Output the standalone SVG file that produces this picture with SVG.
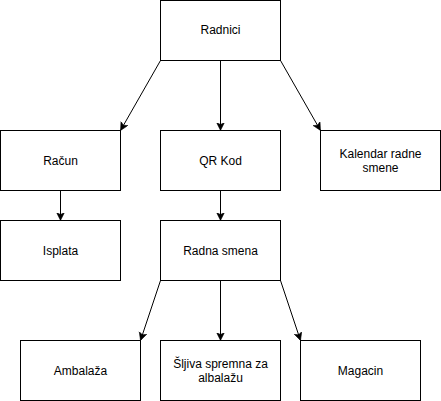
<svg xmlns="http://www.w3.org/2000/svg" width="441" height="401" viewBox="0 0 441 401">
<style>
.box{fill:#fff;stroke:#000;stroke-width:1}
.lbl{font-family:"Liberation Sans",Arial,sans-serif;font-size:12px;fill:#000;text-anchor:middle}
.edge{stroke:#000;stroke-width:1;fill:none;marker-end:url(#arr)}
</style>
<defs>
<marker id="arr" markerUnits="userSpaceOnUse" markerWidth="10" markerHeight="10" viewBox="0 0 10 10" refX="8" refY="4" orient="auto">
<path d="M0,0 L8,4 L0,8 L2,4 z" fill="#000" stroke="#000" stroke-width="0.5"/>
</marker>
</defs>
<rect width="441" height="401" fill="#fff"/>
<g id="connectors">
<path class="edge" d="M160.5,60.5 L120.5,130.5"/>
<path class="edge" d="M220.5,60.5 L220.5,130.5"/>
<path class="edge" d="M280.5,60.5 L320.5,130.5"/>
<path class="edge" d="M60.5,190.5 L60.5,220.5"/>
<path class="edge" d="M220.5,190.5 L220.5,220.5"/>
<path class="edge" d="M160.5,280.5 L140.5,340.5"/>
<path class="edge" d="M220.5,280.5 L220.5,340.5"/>
<path class="edge" d="M280.5,280.5 L300.5,340.5"/>
</g>
<g id="radnici"><rect class="box" x="160.5" y="0.5" width="120" height="60"/><text class="lbl" x="220.5" y="34">Radnici</text></g>
<g id="racun"><rect class="box" x="0.5" y="130.5" width="120" height="60"/><text class="lbl" x="60.5" y="165">Račun</text></g>
<g id="qrkod"><rect class="box" x="160.5" y="130.5" width="120" height="60"/><text class="lbl" x="220.5" y="165">QR Kod</text></g>
<g id="kalendar"><rect class="box" x="320.5" y="130.5" width="120" height="60"/><text class="lbl" x="380.5" y="158">Kalendar radne</text><text class="lbl" x="380.5" y="172">smene</text></g>
<g id="isplata"><rect class="box" x="0.5" y="220.5" width="120" height="60"/><text class="lbl" x="60.5" y="255">Isplata</text></g>
<g id="radnasmena"><rect class="box" x="160.5" y="220.5" width="120" height="60"/><text class="lbl" x="220.5" y="255">Radna smena</text></g>
<g id="ambalaza"><rect class="box" x="20.5" y="340.5" width="120" height="60"/><text class="lbl" x="80.5" y="375">Ambalaža</text></g>
<g id="sljiva"><rect class="box" x="160.5" y="340.5" width="120" height="60"/><text class="lbl" x="220.5" y="368">Šljiva spremna za</text><text class="lbl" x="220.5" y="382">albalažu</text></g>
<g id="magacin"><rect class="box" x="300.5" y="340.5" width="120" height="60"/><text class="lbl" x="360.5" y="375">Magacin</text></g>
</svg>
